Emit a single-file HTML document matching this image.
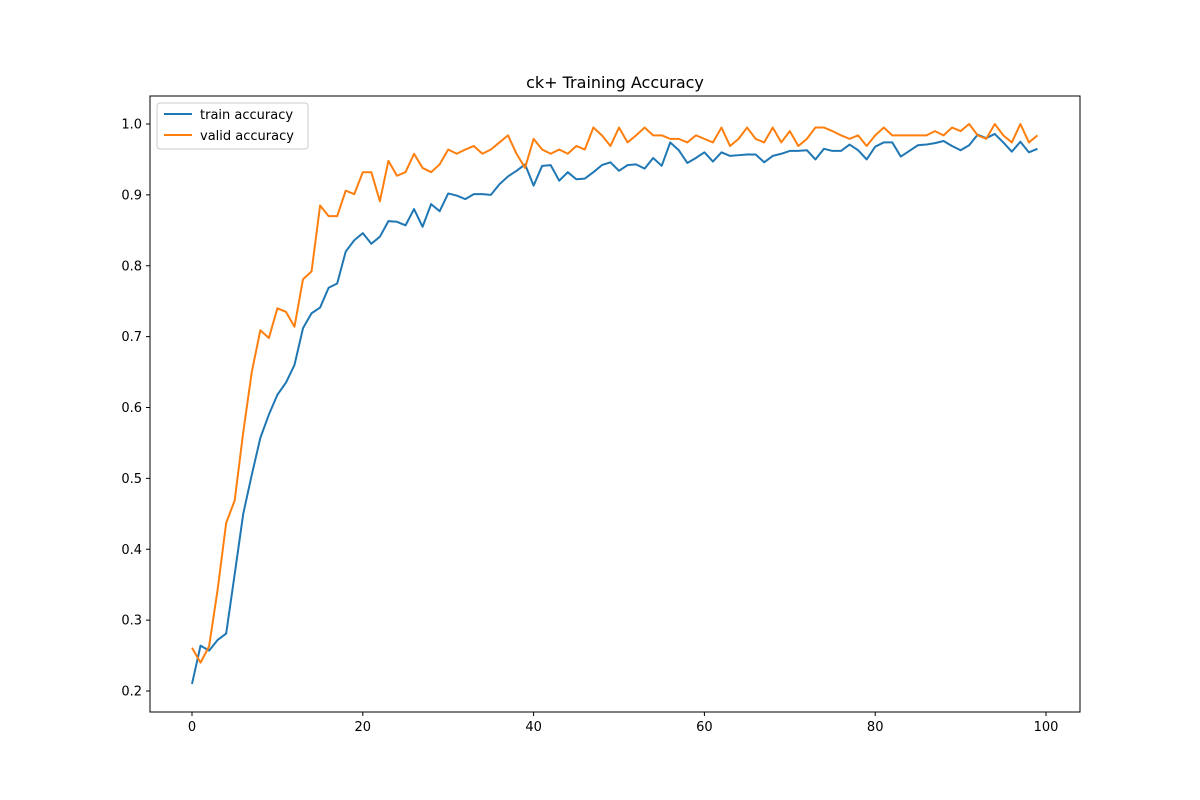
<!DOCTYPE html>
<html><head><meta charset="utf-8"><style>body{margin:0;background:#fff}svg{display:block;font-family:"DejaVu Sans","Liberation Sans",sans-serif}</style></head>
<body>
<svg id="chart" width="1200" height="800" xmlns="http://www.w3.org/2000/svg">
<rect width="1200" height="800" fill="#fff"/>
<text x="615" y="88" text-anchor="middle" font-size="16">ck+ Training Accuracy</text>
<g id="plot"></g>
<rect x="150" y="96" width="930" height="616" fill="none" stroke="#000" stroke-width="1"/>
<g>
<rect x="157" y="103" width="151" height="46" rx="3" fill="#fff" fill-opacity="0.8" stroke="#ccc"/>
<line x1="164" y1="114" x2="192" y2="114" stroke="#1f77b4" stroke-width="2"/>
<text x="200" y="119" font-size="13">train accuracy</text>
<line x1="164" y1="135" x2="192" y2="135" stroke="#ff7f0e" stroke-width="2"/>
<text x="200" y="140" font-size="13">valid accuracy</text>
</g>
</svg>
<script>
const epochs=[...Array(100).keys()];
const trainAcc=[0.21,0.264,0.257,0.272,0.281,0.365,0.45,0.505,0.557,0.59,0.618,0.635,0.66,0.712,0.733,0.741,0.769,0.775,0.82,0.836,0.846,0.831,0.841,0.863,0.862,0.857,0.88,0.855,0.887,0.877,0.902,0.899,0.894,0.901,0.901,0.9,0.915,0.926,0.934,0.943,0.913,0.941,0.942,0.92,0.932,0.922,0.923,0.932,0.942,0.946,0.934,0.942,0.943,0.937,0.952,0.941,0.974,0.963,0.945,0.952,0.96,0.947,0.96,0.955,0.956,0.957,0.957,0.946,0.955,0.958,0.962,0.962,0.963,0.95,0.965,0.962,0.962,0.971,0.963,0.95,0.968,0.974,0.974,0.954,0.962,0.97,0.971,0.973,0.976,0.969,0.963,0.97,0.985,0.98,0.986,0.974,0.961,0.975,0.96,0.965];
const validAcc=[0.261,0.24,0.263,0.343,0.437,0.469,0.565,0.65,0.709,0.698,0.74,0.735,0.714,0.781,0.792,0.885,0.87,0.87,0.906,0.901,0.932,0.932,0.891,0.948,0.927,0.932,0.958,0.938,0.932,0.943,0.964,0.958,0.964,0.969,0.958,0.964,0.974,0.984,0.958,0.938,0.979,0.964,0.958,0.964,0.958,0.969,0.964,0.995,0.984,0.969,0.995,0.974,0.984,0.995,0.984,0.984,0.979,0.979,0.974,0.984,0.979,0.974,0.995,0.969,0.979,0.995,0.979,0.974,0.995,0.974,0.99,0.969,0.979,0.995,0.995,0.99,0.984,0.979,0.984,0.969,0.984,0.995,0.984,0.984,0.984,0.984,0.984,0.99,0.984,0.995,0.99,1.0,0.984,0.979,1.0,0.984,0.974,1.0,0.974,0.984];
const xTicks=[0,20,40,60,80,100];
const yTicks=[0.2,0.3,0.4,0.5,0.6,0.7,0.8,0.9,1.0];
const NS='http://www.w3.org/2000/svg';
const xs=v=>192+v*8.54;
const ys=v=>124+(1-v)*708.75;
const g=document.getElementById('plot');
function mk(t,a){const e=document.createElementNS(NS,t);for(const k in a)e.setAttribute(k,a[k]);g.appendChild(e);return e;}
xTicks.forEach(t=>{const x=xs(t);
 const l=mk('line',{x1:x,y1:712,x2:x,y2:716,stroke:'#000'});
 
 
 const tx=mk('text',{x:x,y:731,'text-anchor':'middle','font-size':13});tx.textContent=t;
 
 });
yTicks.forEach(t=>{const y=ys(t);
 const l=mk('line',{x1:146,y1:y,x2:150,y2:y,stroke:'#000'});
 
 
 const tx=mk('text',{x:142,y:y+4.5,'text-anchor':'end','font-size':13});tx.textContent=t.toFixed(1);
 
 });
function line(d,c,n){const p=mk('polyline',{points:d.map((v,i)=>xs(epochs[i])+','+ys(v)).join(' '),fill:'none',stroke:c,'stroke-width':2,'stroke-linejoin':'round'});
 
 }
line(trainAcc,'#1f77b4','train-accuracy-line');
line(validAcc,'#ff7f0e','valid-accuracy-line');
</script>
</body></html>
